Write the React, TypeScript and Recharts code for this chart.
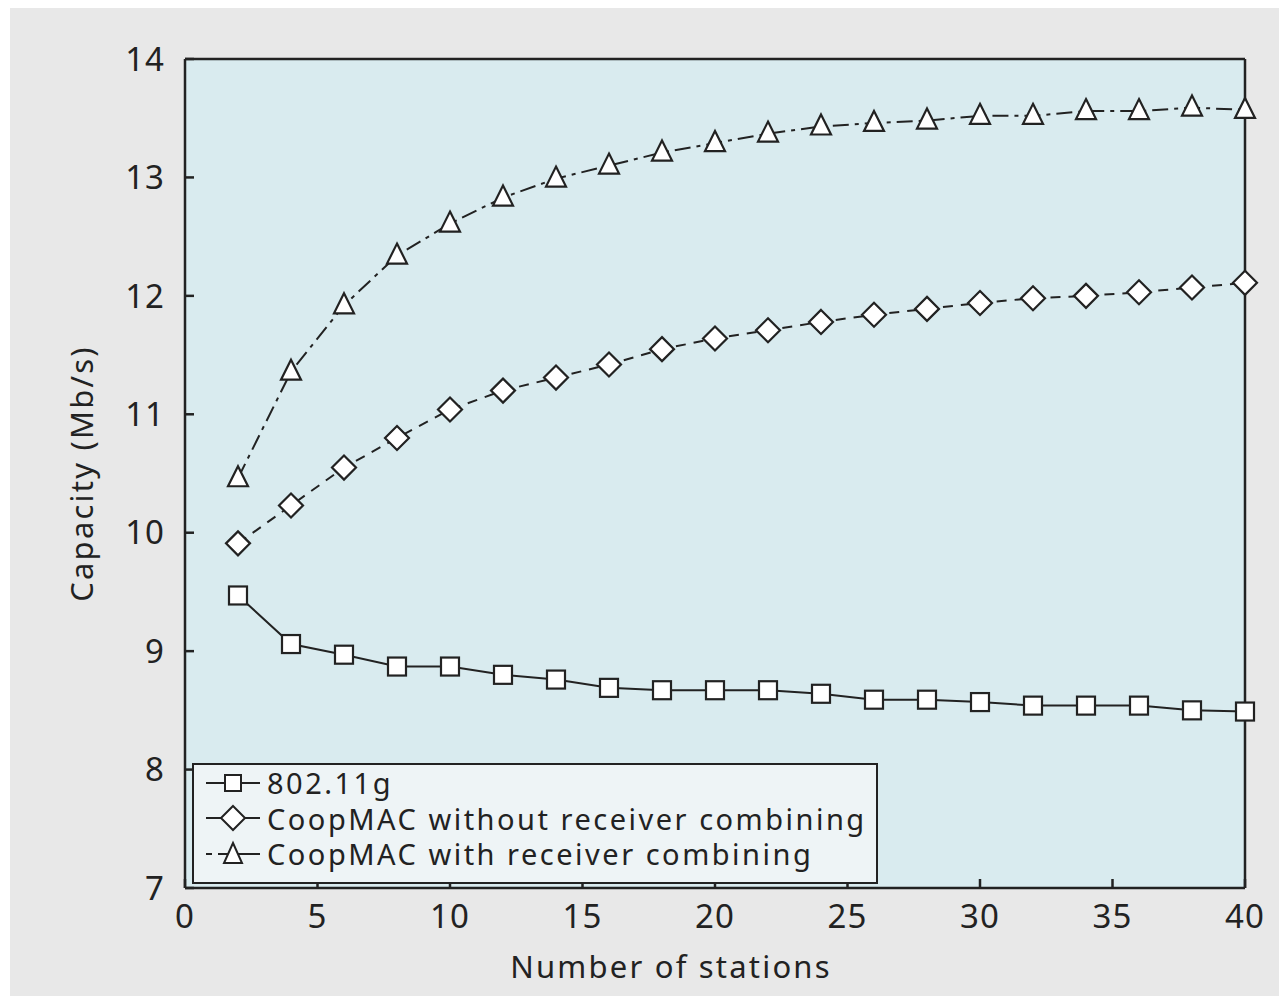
import React from 'react'
import { ComposedChart, Line, XAxis, YAxis, CartesianGrid, Legend, Label } from 'recharts'

// ─── data ──────────────────────────────────────────────────────
const stations = [2, 4, 6, 8, 10, 12, 14, 16, 18, 20, 22, 24, 26, 28, 30, 32, 34, 36, 38, 40]
const legacy80211g = [9.47, 9.06, 8.97, 8.87, 8.87, 8.8, 8.76, 8.69, 8.67, 8.67, 8.67, 8.64, 8.59, 8.59, 8.57, 8.54, 8.54, 8.54, 8.5, 8.49]
const coopNoCombining = [9.91, 10.23, 10.55, 10.8, 11.04, 11.2, 11.31, 11.42, 11.55, 11.64, 11.71, 11.78, 11.84, 11.89, 11.94, 11.98, 12.0, 12.03, 12.07, 12.11]
const coopCombining = [10.46, 11.36, 11.92, 12.34, 12.61, 12.83, 12.99, 13.1, 13.21, 13.29, 13.37, 13.43, 13.46, 13.48, 13.52, 13.52, 13.56, 13.56, 13.59, 13.57]
const xTicks = [0, 5, 10, 15, 20, 25, 30, 35, 40]
const yTicks = [7, 8, 9, 10, 11, 12, 13, 14]
const seriesNames = ['802.11g', 'CoopMAC without receiver combining', 'CoopMAC with receiver combining']

const data = stations.map((s, i) => ({
  n: s,
  g: legacy80211g[i],
  noComb: coopNoCombining[i],
  comb: coopCombining[i],
}))

const INK = '#222'
const FONT = '"Noto Sans", "Open Sans", sans-serif'

// ─── markers ───────────────────────────────────────────────────
const SquareDot = (props: any) => {
  const { cx, cy, index } = props
  if (cx == null || cy == null) return null
  return <rect key={`s${index}`} x={cx - 9} y={cy - 9} width={18} height={18} fill="#fff" stroke={INK} strokeWidth={2.2} />
}
const DiamondDot = (props: any) => {
  const { cx, cy, index } = props
  if (cx == null || cy == null) return null
  const r = 12
  return <path key={`d${index}`} d={`M${cx},${cy - r}L${cx + r},${cy}L${cx},${cy + r}L${cx - r},${cy}Z`} fill="#fff" stroke={INK} strokeWidth={2.2} />
}
const TriangleDot = (props: any) => {
  const { cx, cy, index } = props
  if (cx == null || cy == null) return null
  return <path key={`t${index}`} d={`M${cx},${cy - 12}L${cx + 10},${cy + 8}L${cx - 10},${cy + 8}Z`} fill="#fff" stroke={INK} strokeWidth={2.2} />
}

// ─── legend ────────────────────────────────────────────────────
const LegendIcon = ({ kind }: { kind: number }) => (
  <svg width={62} height={30} style={{ display: 'block' }}>
    {kind === 0 && <line x1={4} y1={15} x2={58} y2={15} stroke={INK} strokeWidth={2} />}
    {kind === 1 && <line x1={4} y1={15} x2={58} y2={15} stroke={INK} strokeWidth={2} strokeDasharray="22 4 6 6" />}
    {kind === 2 && <line x1={4} y1={15} x2={58} y2={15} stroke={INK} strokeWidth={2} strokeDasharray="6 6 42 0" />}
    {kind === 0 && <rect x={23} y={7} width={16} height={16} fill="#fff" stroke={INK} strokeWidth={2} />}
    {kind === 1 && <path d="M31,3L43,15L31,27L19,15Z" fill="#fff" stroke={INK} strokeWidth={2} />}
    {kind === 2 && <path d="M31,4L40,24L22,24Z" fill="#fff" stroke={INK} strokeWidth={2} />}
  </svg>
)

const LegendBox = () => (
  <div style={{
    border: `2px solid ${INK}`, background: '#eef4f6', padding: '0 8px',
    fontFamily: FONT, fontSize: 29, letterSpacing: 2.5, color: INK, lineHeight: '35.5px', boxSizing: 'border-box',
    width: 686, height: 121,
  }}>
    {seriesNames.map((name, i) => (
      <div key={name} style={{ display: 'flex', alignItems: 'center', whiteSpace: 'nowrap', height: 35.5 }}>
        <LegendIcon kind={i} />
        <span style={{ marginLeft: 3 }}>{name}</span>
      </div>
    ))}
  </div>
)

const tickStyle = { fontSize: 33, fill: INK, fontFamily: FONT, letterSpacing: 1 }
const labelStyle = { fontSize: 31, fill: INK, fontFamily: FONT, letterSpacing: 2.2 }
const axisLine = { stroke: INK, strokeWidth: 2.5 }
const tickLine = { stroke: INK, strokeWidth: 2.5 }

export default function App() {
  return (
    <div style={{ position: 'absolute', left: 0, top: 0, width: 1279, height: 996, background: '#fff', overflow: 'hidden' }}>
      <div style={{ position: 'absolute', left: 10, top: 8, width: 1269, height: 988, background: '#e8e8e8' }} />
      <div style={{ position: 'absolute', left: 0, top: 0 }}>
        <ComposedChart width={1279} height={996} data={data} margin={{ top: 58, right: 33, bottom: 68, left: 125 }}>
          <CartesianGrid fill="#d9ebef" vertical={false} stroke="#c4c4c4" strokeDasharray="9 6" strokeWidth={1.5} />
          <XAxis xAxisId="b" dataKey="n" type="number" domain={[0, 40]} ticks={xTicks} height={40}
            tick={tickStyle} tickSize={-9} tickMargin={26} axisLine={axisLine} tickLine={tickLine} interval={0}>
            <Label content={(p: any) => {
              const vb = p.viewBox
              return <text x={vb.x + vb.width / 2 - 44} y={vb.y + 90} textAnchor="middle" style={labelStyle}>Number of stations</text>
            }} />
          </XAxis>
          <XAxis xAxisId="t" dataKey="n" type="number" orientation="top" domain={[0, 40]} ticks={xTicks} height={1}
            tick={false} tickSize={-9} axisLine={axisLine} tickLine={tickLine} />
          <YAxis yAxisId="l" type="number" domain={[7, 14]} ticks={yTicks} width={60} interval={0}
            tick={tickStyle} tickSize={-9} tickMargin={29} axisLine={axisLine} tickLine={tickLine}>
            <Label content={(p: any) => {
              const vb = p.viewBox
              const x = vb.x - 32
              const y = vb.y + vb.height / 2
              return <text x={x} y={y} transform={`rotate(-90 ${x} ${y})`} textAnchor="middle" style={labelStyle}>Capacity (Mb/s)</text>
            }} />
          </YAxis>
          <YAxis yAxisId="r" type="number" orientation="right" domain={[7, 14]} ticks={yTicks} width={1}
            tick={false} tickSize={-9} axisLine={axisLine} tickLine={tickLine} />

          <Line xAxisId="b" yAxisId="l" type="linear" dataKey="g" name={seriesNames[0]} stroke={INK} strokeWidth={2}
            dot={SquareDot} isAnimationActive={false} />
          <Line xAxisId="b" yAxisId="l" type="linear" dataKey="noComb" name={seriesNames[1]} stroke={INK} strokeWidth={2}
            strokeDasharray="10 8" dot={DiamondDot} isAnimationActive={false} />
          <Line xAxisId="b" yAxisId="l" type="linear" dataKey="comb" name={seriesNames[2]} stroke={INK} strokeWidth={2}
            strokeDasharray="16 6 4 6" dot={TriangleDot} isAnimationActive={false} />

          <Legend layout="horizontal" verticalAlign="middle" align="center" content={() => <LegendBox />}
            wrapperStyle={{ left: 192, top: 763, width: 686, height: 121 }} />
        </ComposedChart>
      </div>
    </div>
  )
}
